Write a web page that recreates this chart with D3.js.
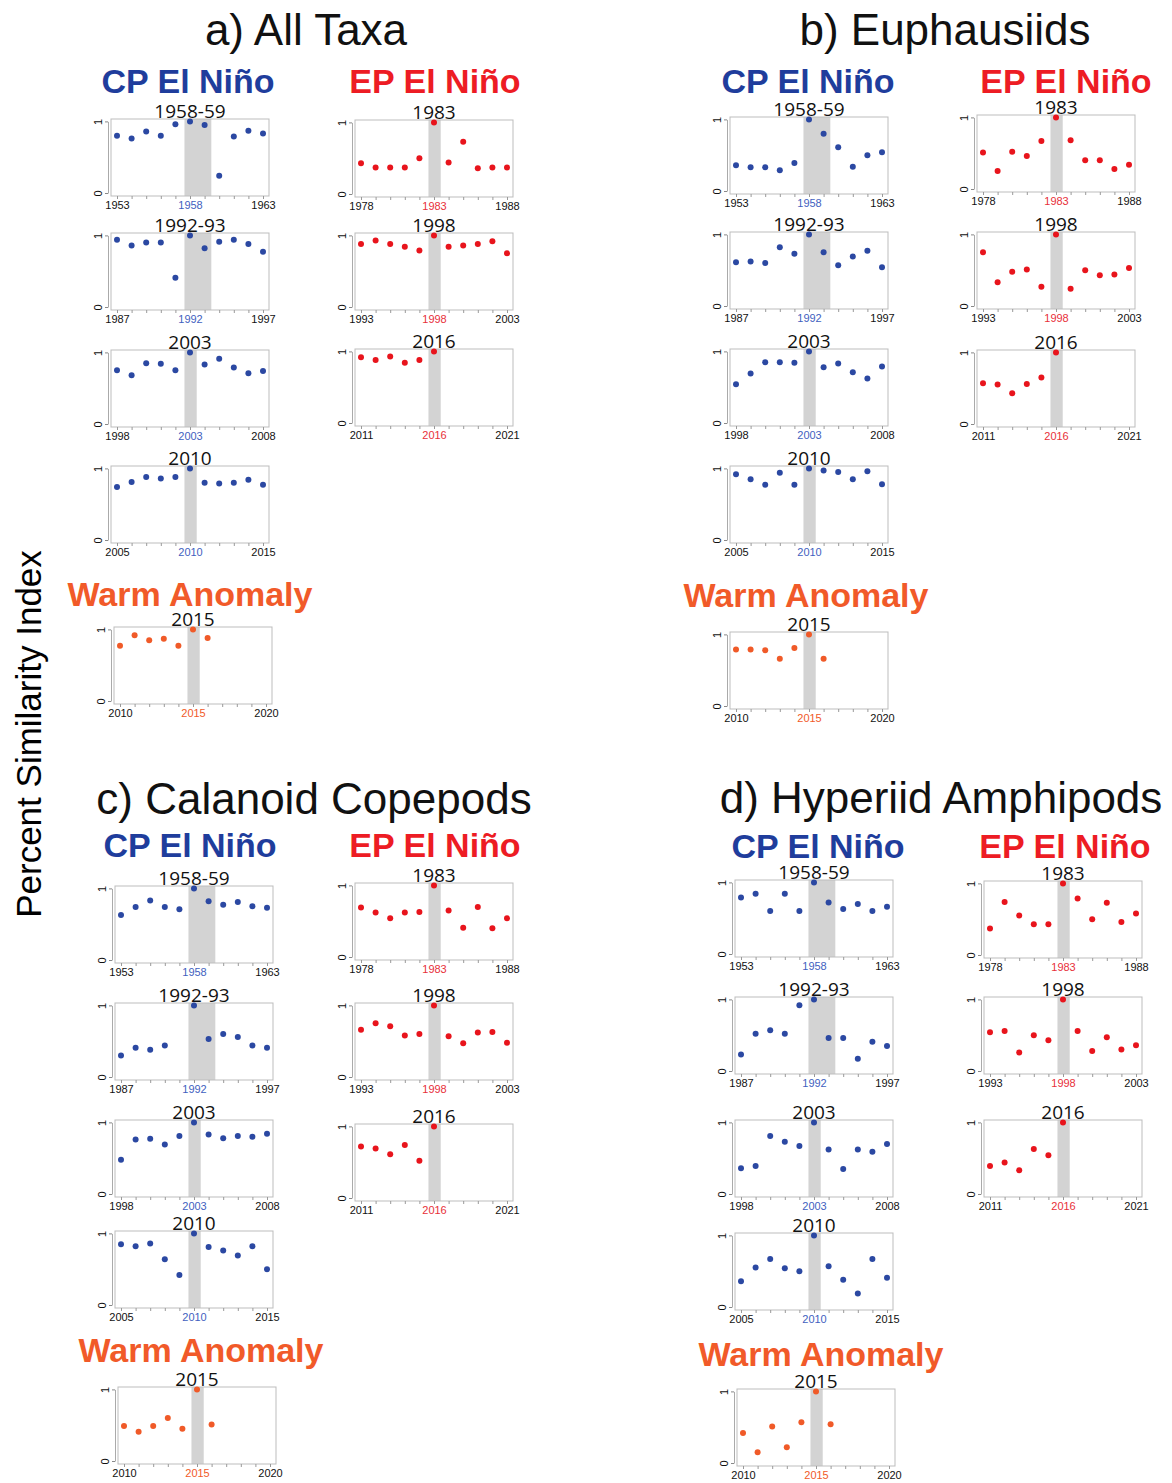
<!DOCTYPE html>
<html>
<head>
<meta charset="utf-8">
<script src="https://cdn.jsdelivr.net/npm/d3@7"></script>
<style>
  body { margin: 0; background: #fff; }
  svg { display: block; }
</style>
</head>
<body>
<svg id="chart"></svg>
<script>
// events (label, first year, last year of the shaded band)
const cpLabels = ["1958-59", "1992-93", "2003", "2010"];
const cpStart = [1958, 1992, 2003, 2010];
const cpEnd = [1959, 1993, 2003, 2010];
const epLabels = ["1983", "1998", "2016"];
const epStart = [1983, 1998, 2016];
const warmLabels = ["2015"];
const warmStart = [2015];

// percent similarity, years start-5 .. start+5
const allTaxaCP = [
  [0.80, 0.76, 0.86, 0.80, 0.96, 1.00, 0.95, 0.24, 0.79, 0.87, 0.83],
  [0.94, 0.86, 0.90, 0.90, 0.41, 1.00, 0.82, 0.91, 0.94, 0.88, 0.77],
  [0.75, 0.68, 0.85, 0.84, 0.75, 1.00, 0.83, 0.91, 0.79, 0.71, 0.74],
  [0.74, 0.81, 0.88, 0.86, 0.88, 1.00, 0.80, 0.79, 0.80, 0.84, 0.77]
];
const allTaxaEP = [
  [0.43, 0.37, 0.37, 0.37, 0.50, 1.00, 0.44, 0.73, 0.36, 0.37, 0.37],
  [0.88, 0.93, 0.88, 0.84, 0.79, 1.00, 0.84, 0.86, 0.88, 0.92, 0.75],
  [0.92, 0.88, 0.93, 0.84, 0.88, 1.00, null, null, null, null, null]
];
const allTaxaWarm = [
  [0.77, 0.92, 0.85, 0.87, 0.77, 1.00, 0.88, null, null, null, null]
];

const euphCP = [
  [0.36, 0.33, 0.33, 0.29, 0.39, 1.00, 0.80, 0.61, 0.34, 0.50, 0.54],
  [0.61, 0.62, 0.60, 0.82, 0.73, 1.00, 0.75, 0.57, 0.69, 0.77, 0.54],
  [0.54, 0.69, 0.85, 0.85, 0.84, 1.00, 0.78, 0.83, 0.71, 0.62, 0.79],
  [0.92, 0.85, 0.77, 0.94, 0.77, 1.00, 0.97, 0.95, 0.85, 0.96, 0.78]
];
const euphEP = [
  [0.51, 0.25, 0.52, 0.46, 0.67, 1.00, 0.68, 0.40, 0.40, 0.28, 0.34],
  [0.75, 0.33, 0.48, 0.51, 0.27, 1.00, 0.24, 0.50, 0.43, 0.44, 0.53],
  [0.57, 0.55, 0.43, 0.56, 0.65, 1.00, null, null, null, null, null]
];
const euphWarm = [
  [0.79, 0.79, 0.78, 0.66, 0.81, 1.00, 0.66, null, null, null, null]
];

const copeCP = [
  [0.63, 0.74, 0.83, 0.74, 0.71, 1.00, 0.82, 0.77, 0.81, 0.75, 0.73],
  [0.30, 0.41, 0.38, 0.44, null, 1.00, 0.53, 0.60, 0.56, 0.44, 0.41],
  [0.48, 0.76, 0.77, 0.69, 0.81, 1.00, 0.83, 0.78, 0.81, 0.80, 0.84],
  [0.85, 0.82, 0.86, 0.64, 0.42, 1.00, 0.81, 0.76, 0.69, 0.82, 0.50]
];
const copeEP = [
  [0.69, 0.62, 0.54, 0.62, 0.63, 1.00, 0.65, 0.41, 0.70, 0.40, 0.54],
  [0.66, 0.75, 0.71, 0.58, 0.60, 1.00, 0.57, 0.47, 0.62, 0.63, 0.48],
  [0.72, 0.69, 0.61, 0.74, 0.52, 1.00, null, null, null, null, null]
];
const copeWarm = [
  [0.49, 0.41, 0.49, 0.60, 0.45, 1.00, 0.51, null, null, null, null]
];

const amphCP = [
  [0.79, 0.84, 0.60, 0.84, 0.60, 1.00, 0.72, 0.63, 0.70, 0.60, 0.66],
  [0.23, 0.52, 0.57, 0.52, 0.92, 1.00, 0.46, 0.46, 0.17, 0.41, 0.35],
  [0.36, 0.39, 0.81, 0.73, 0.67, 1.00, 0.62, 0.35, 0.62, 0.59, 0.70],
  [0.36, 0.55, 0.67, 0.54, 0.50, 1.00, 0.57, 0.38, 0.19, 0.67, 0.41]
];
const amphEP = [
  [0.37, 0.74, 0.55, 0.43, 0.43, 1.00, 0.79, 0.50, 0.73, 0.46, 0.58],
  [0.54, 0.56, 0.26, 0.50, 0.43, 1.00, 0.56, 0.28, 0.47, 0.30, 0.36],
  [0.39, 0.44, 0.33, 0.63, 0.54, 1.00, null, null, null, null, null]
];
const amphWarm = [
  [0.42, 0.15, 0.51, 0.22, 0.57, 1.00, 0.54, null, null, null, null]
];

const colors = {
  cp: { dot: "#2b48a2", head: "#1f3d9c", tick: "#3f5fc0" },
  ep: { dot: "#e8141c", head: "#ed1c24", tick: "#e8303a" },
  warm: { dot: "#f05a28", head: "#f15a29", tick: "#f15a29" }
};

// layout of the four blocks
const quads = [
  { title: "a) All Taxa", tx: 306, ty: 45, hy: 93, cpHx: 188, epHx: 435,
    cpLeft: 111, cpTops: [119, 233, 350, 466], epLeft: 355, epTops: [120, 233, 349],
    warmHx: 190, warmHy: 606, warmLeft: 114, warmTop: 627,
    cp: allTaxaCP, ep: allTaxaEP, warm: allTaxaWarm },
  { title: "b) Euphausiids", tx: 945, ty: 45, hy: 93, cpHx: 808, epHx: 1066,
    cpLeft: 730, cpTops: [117, 232, 349, 466], epLeft: 977, epTops: [115, 232, 350],
    warmHx: 806, warmHy: 607, warmLeft: 730, warmTop: 632,
    cp: euphCP, ep: euphEP, warm: euphWarm },
  { title: "c) Calanoid Copepods", tx: 314, ty: 814, hy: 857, cpHx: 190, epHx: 435,
    cpLeft: 115, cpTops: [886, 1003, 1120, 1231], epLeft: 355, epTops: [883, 1003, 1124],
    warmHx: 201, warmHy: 1362, warmLeft: 118, warmTop: 1387,
    cp: copeCP, ep: copeEP, warm: copeWarm },
  { title: "d) Hyperiid Amphipods", tx: 941, ty: 813, hy: 858, cpHx: 818, epHx: 1065,
    cpLeft: 735, cpTops: [880, 997, 1120, 1233], epLeft: 984, epTops: [881, 997, 1120],
    warmHx: 821, warmHy: 1366, warmLeft: 737, warmTop: 1389,
    cp: amphCP, ep: amphEP, warm: amphWarm }
];

const W = 158, H = 77;
const svg = d3.select("#chart").attr("width", 1172).attr("height", 1483);

svg.append("text")
  .attr("transform", "translate(41,734) rotate(-90)")
  .attr("text-anchor", "middle")
  .style("font-family", "Liberation Sans, Arial, sans-serif")
  .style("font-size", "35px")
  .text("Percent Similarity Index");

function drawPlot(left, top, label, start, end, values, kind) {
  const g = svg.append("g").attr("transform", `translate(${left},${top})`);
  const years = d3.range(start - 5, start + 6);
  const x = d3.scaleLinear().domain([start - 5, start + 5]).range([6, W - 6]);
  const y = d3.scaleLinear().domain([0, 1]).range([74, 2.4]);

  g.append("rect")
    .attr("x", x(start - 0.38)).attr("y", 0)
    .attr("width", x(end + 0.46) - x(start - 0.38)).attr("height", H)
    .attr("fill", "#d3d3d3");

  g.append("rect")
    .attr("width", W).attr("height", H)
    .attr("fill", "none").attr("stroke", "#bdbdbd").attr("stroke-width", 1);

  const xa = g.append("g").attr("transform", `translate(0,${H})`)
    .call(d3.axisBottom(x).tickValues(years).tickSize(3).tickSizeOuter(0)
      .tickFormat(d => (d - start) % 5 === 0 ? d : ""));
  xa.select(".domain").remove();
  xa.selectAll("line").attr("stroke", "#999");
  xa.selectAll("text")
    .attr("y", 5)
    .style("font-family", "Liberation Sans, Arial, sans-serif")
    .style("font-size", "11px")
    .attr("fill", d => d === start ? colors[kind].tick : "#111");

  const ya = g.append("g").attr("transform", "translate(-3,0)")
    .call(d3.axisLeft(y).tickValues([0, 1]).tickSize(3).tickSizeOuter(0).tickFormat(d3.format("d")));
  ya.select(".domain").attr("stroke", "#aaa");
  ya.selectAll("line").attr("stroke", "#888");
  ya.selectAll("text")
    .attr("transform", "rotate(-90)")
    .attr("x", 0).attr("y", -6).attr("dy", 0)
    .attr("text-anchor", "middle")
    .style("font-family", "Liberation Sans, Arial, sans-serif")
    .style("font-size", "11px")
    .attr("fill", "#111");

  g.selectAll("circle")
    .data(years.map((yr, i) => ({ yr, v: values[i] })).filter(d => d.v != null))
    .join("circle")
    .attr("cx", d => x(d.yr))
    .attr("cy", d => y(d.v))
    .attr("r", 3)
    .attr("fill", colors[kind].dot);

  g.append("text")
    .attr("x", W / 2).attr("y", -1)
    .attr("text-anchor", "middle")
    .style("font-family", "Open Sans, Noto Sans, sans-serif")
    .style("font-size", "19px")
    .attr("fill", "#111")
    .text(label);
}

function header(x, y, txt, size, color, bold) {
  svg.append("text")
    .attr("x", x).attr("y", y)
    .attr("text-anchor", "middle")
    .style("font-family", "Liberation Sans, Arial, sans-serif")
    .style("font-size", size + "px")
    .style("font-weight", bold ? "bold" : "normal")
    .attr("fill", color)
    .text(txt);
}

quads.forEach(q => {
  header(q.tx, q.ty, q.title, 44, "#111", false);
  header(q.cpHx, q.hy, "CP El Niño", 34, colors.cp.head, true);
  header(q.epHx, q.hy, "EP El Niño", 34, colors.ep.head, true);
  header(q.warmHx, q.warmHy, "Warm Anomaly", 34, colors.warm.head, true);

  cpLabels.forEach((lab, i) =>
    drawPlot(q.cpLeft, q.cpTops[i], lab, cpStart[i], cpEnd[i], q.cp[i], "cp"));
  epLabels.forEach((lab, i) =>
    drawPlot(q.epLeft, q.epTops[i], lab, epStart[i], epStart[i], q.ep[i], "ep"));
  warmLabels.forEach((lab, i) =>
    drawPlot(q.warmLeft, q.warmTop, lab, warmStart[i], warmStart[i], q.warm[i], "warm"));
});
</script>
</body>
</html>
